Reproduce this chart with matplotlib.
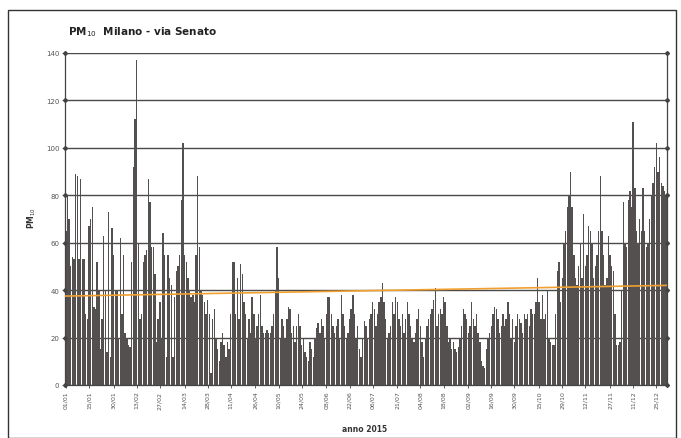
import numpy as np
import pandas as pd
import matplotlib
matplotlib.use('Agg')
import matplotlib.pyplot as plt
from matplotlib.patches import Rectangle

# Data (PM10 daily, Milano via Senato, 2015)
#._____________________

pm10 = [
    65, 80, 70, 50, 54, 53, 89, 88, 53, 87,
    53, 53, 30, 28, 67, 70, 75, 33, 32, 52,
    40, 15, 28, 63, 40, 14, 73, 12, 66, 55,
    40, 40, 20, 62, 30, 55, 22, 20, 17, 16,
    52, 92, 112, 137, 60, 28, 30, 52, 55, 57,
    87, 77, 58, 58, 47, 18, 28, 35, 20, 64,
    55, 12, 55, 45, 42, 12, 37, 48, 50, 55,
    78, 102, 55, 52, 45, 40, 37, 38, 35, 55,
    88, 58, 40, 38, 35, 30, 36, 30, 5, 28,
    32, 20, 15, 10, 18, 22, 17, 12, 18, 15,
    30, 52, 52, 30, 45, 28, 51, 47, 35, 30,
    20, 28, 22, 37, 30, 20, 25, 30, 38, 25,
    22, 22, 23, 22, 22, 25, 30, 40, 58, 45,
    20, 28, 25, 20, 28, 33, 32, 22, 25, 18,
    25, 30, 25, 17, 20, 14, 12, 10, 18, 15,
    12, 20, 24, 26, 22, 28, 25, 20, 30, 37,
    37, 30, 25, 22, 25, 28, 20, 38, 30, 25,
    20, 22, 28, 32, 38, 30, 20, 25, 15, 12,
    20, 27, 25, 20, 28, 30, 35, 32, 25, 30,
    35, 37, 43, 35, 28, 20, 22, 25, 35, 30,
    37, 35, 28, 25, 30, 22, 28, 35, 30, 25,
    20, 18, 22, 28, 32, 25, 18, 12, 20, 25,
    28, 30, 32, 36, 41, 25, 30, 32, 30, 37,
    35, 25, 18, 20, 15, 18, 15, 14, 16, 20,
    25, 32, 30, 28, 22, 25, 35, 28, 25, 30,
    22, 18, 10, 8, 7, 15, 20, 22, 25, 30,
    33, 32, 28, 22, 25, 30, 25, 28, 35, 30,
    20, 28, 18, 25, 30, 28, 26, 22, 30, 28,
    30, 25, 32, 30, 30, 35, 45, 35, 28, 38,
    28, 30, 40, 20, 18, 17, 17, 30, 48, 52,
    35, 45, 60, 65, 75, 80, 90, 75, 55, 45,
    42, 50, 60, 45, 72, 50, 55, 67, 65, 60,
    45, 50, 55, 65, 88, 65, 55, 42, 45, 63,
    55, 50, 48, 30, 17, 17, 18, 40, 77, 60,
    58, 78, 82, 75, 111, 83, 65, 60, 70, 65,
    83, 65, 58, 60, 70, 80, 85, 92, 102, 90,
    96, 85, 84, 82, 80,
]
dates = pd.date_range('2015-01-01', periods=len(pm10), freq='D')

# orange trend line, start/end values
trend = [37.5, 42.0]

# x tick days (labels are the dates of these days)
tick_days = [0, 14, 29, 43, 57, 72, 86, 100, 115, 129, 143, 158, 172,
             186, 201, 215, 229, 244, 258, 272, 287, 301, 315, 330, 344, 358]
yticks = [0, 20, 40, 60, 80, 100, 120, 140]

# PLOT
#._____________________

fig = plt.figure(figsize=(6.81, 4.39), dpi=100)
fig.patches.append(Rectangle((8/681, 0), 668/681, 1-11/439, transform=fig.transFigure,
                             fill=False, edgecolor='#333333', linewidth=1.0))

ax = fig.add_axes([65/681, 1-386/439, 602/681, 332/439])
x = np.arange(len(pm10))

for v in yticks:
    ax.axhline(v, color='#4a4a4a', linewidth=1.0, zorder=0)

ax.bar(x, pm10, width=0.85, color='#555050', linewidth=0, zorder=2)
ax.plot([x[0], x[-1]], trend, color='#f0a030', linewidth=1.2, zorder=3)

# diamond markers on left/right axes
ax.plot([-0.5]*len(yticks), yticks, 'D', color='#444444', markersize=2, clip_on=False, zorder=4)
ax.plot([len(pm10)-0.5]*len(yticks), yticks, 'D', color='#444444', markersize=2, clip_on=False, zorder=4)

ax.set_xlim(-0.5, len(pm10)-0.5)
ax.set_ylim(0, 140)
ax.set_yticks(yticks)
ax.set_yticklabels([str(v) for v in yticks], fontsize=5, color='#555555')
ax.set_xticks(tick_days)
ax.set_xticklabels([dates[d].strftime('%d/%m') for d in tick_days], rotation=90,
                   fontsize=4.5, color='#555555')
ax.tick_params(axis='both', length=2, width=0.6, color='#444444', pad=2)

ax.spines['top'].set_visible(False)
for s in ['left', 'right', 'bottom']:
    ax.spines[s].set_color('#444444')
    ax.spines[s].set_linewidth(0.9)

fig.text(68/681, 1-32/439, 'PM$_{10}$  Milano - via Senato', fontsize=7.5,
         fontweight='bold', color='#222222', va='center')
fig.text(32/681, 1-218/439, 'PM$_{10}$', fontsize=5.5, fontweight='bold',
         rotation=90, color='#333333', ha='center', va='center')
fig.text(365/681, 1-430/439, 'anno 2015', fontsize=5.5, fontweight='bold',
         color='#333333', ha='center', va='center')

fig.savefig('out.png', dpi=100)
